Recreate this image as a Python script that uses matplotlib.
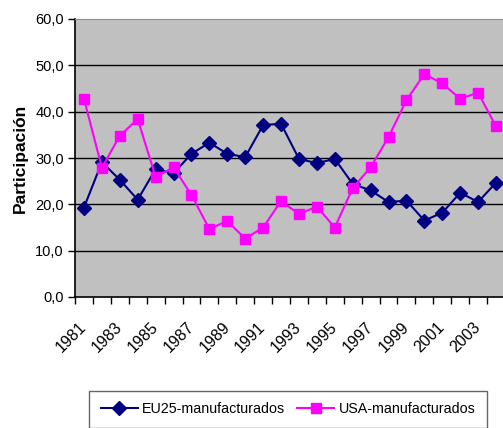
import matplotlib.pyplot as plt
from matplotlib.ticker import FixedLocator
from matplotlib.transforms import ScaledTranslation

plt.rcParams['font.family'] = ['Liberation Sans', 'DejaVu Sans']

years = list(range(1981, 2005))
eu25 = [19.3, 29.1, 25.3, 21.0, 27.6, 26.7, 30.9, 33.3, 30.9, 30.2, 37.1, 37.4,
        29.8, 28.9, 29.8, 24.4, 23.0, 20.5, 20.8, 16.5, 18.2, 22.5, 20.5, 24.7]
usa = [42.8, 27.9, 34.8, 38.4, 25.9, 28.0, 22.0, 14.7, 16.4, 12.6, 15.0, 20.7,
       17.9, 19.5, 15.0, 23.5, 28.0, 34.5, 42.5, 48.1, 46.1, 42.8, 44.1, 36.8]
yticks = [0, 10, 20, 30, 40, 50, 60]

fig = plt.figure(figsize=(5.03, 4.28), dpi=100)
ax = fig.add_axes([75 / 503, 1 - 297 / 428, 430 / 503, 278 / 428])
ax.set_facecolor('#C0C0C0')

x = list(range(len(years)))
ax.plot(x, eu25, color='#000080', marker='D', markersize=7, lw=1.5,
        label='EU25-manufacturados', clip_on=False, zorder=3)
ax.plot(x, usa, color='#FF00FF', marker='s', markersize=7, lw=1.5,
        label='USA-manufacturados', clip_on=False, zorder=3)

ax.set_xlim(-0.5, len(years) - 0.5)
ax.set_ylim(0, 60)
ax.set_yticks(yticks)
ax.set_yticklabels([f'{v:.1f}'.replace('.', ',') for v in yticks], fontsize=10.5)
for v in yticks[1:-1]:
    ax.axhline(v, color='black', lw=1, zorder=1)

ax.set_xticks(x[::2])
ax.set_xticklabels([str(y) for y in years[::2]], rotation=45, ha='right',
                   va='center', rotation_mode='anchor', fontsize=11.5)
shift = ScaledTranslation(-16 / 72, 0, fig.dpi_scale_trans)
for lbl in ax.get_xticklabels():
    lbl.set_transform(lbl.get_transform() + shift)
ax.xaxis.set_minor_locator(FixedLocator([i - 0.5 for i in range(len(years) + 1)]))
ax.tick_params(axis='x', which='major', length=0, pad=20)
ax.tick_params(axis='x', which='minor', length=5, width=1, direction='out')
ax.tick_params(axis='y', length=5, width=1, direction='out', pad=3)

ax.spines['right'].set_visible(False)
ax.spines['top'].set_color('#909090')
ax.spines['left'].set_linewidth(1.2)
ax.spines['bottom'].set_linewidth(1.2)

ax.set_ylabel('Participación', fontsize=12.5, fontweight='bold', labelpad=5)

fig.legend(loc='upper center', bbox_to_anchor=(288 / 503, 1 - 391 / 428),
           ncol=2, fontsize=10.3, frameon=True, fancybox=False,
           edgecolor='#404040', handlelength=2.6, handletextpad=0.3,
           columnspacing=0.8, borderpad=0.8, borderaxespad=0)

fig.savefig('out.png', dpi=100)
